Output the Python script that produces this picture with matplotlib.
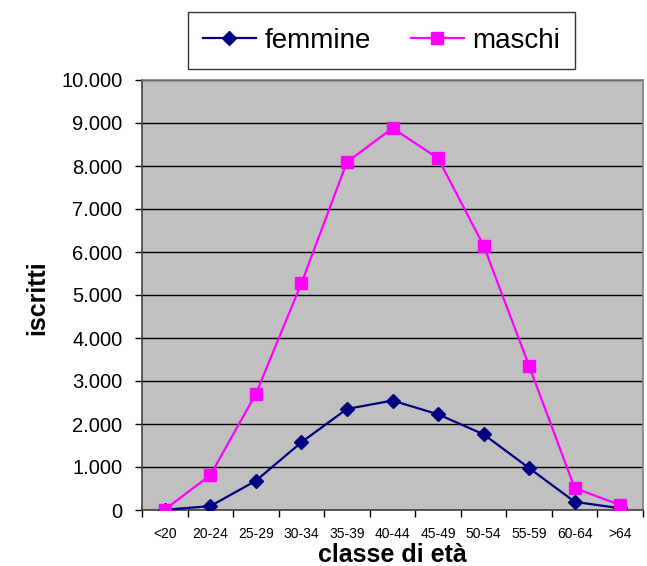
import matplotlib
matplotlib.use("Agg")
from matplotlib import pyplot as plt
from matplotlib.ticker import FuncFormatter, MultipleLocator

plt.rcParams['font.family'] = ['Liberation Sans', 'DejaVu Sans']

# age classes and enrolled counts
classi = ["<20", "20-24", "25-29", "30-34", "35-39", "40-44",
          "45-49", "50-54", "55-59", "60-64", ">64"]
femmine = [5, 90, 680, 1575, 2350, 2545, 2225, 1760, 975, 190, 40]
maschi = [10, 810, 2700, 5270, 8090, 8880, 8180, 6150, 3350, 510, 115]

fig = plt.figure(figsize=(6.47, 5.66), dpi=100)
ax = fig.add_axes([142 / 647, 56 / 566, 501 / 647, 430 / 566])
ax.set_facecolor("#C0C0C0")

x = list(range(len(classi)))
ax.plot(x, femmine, color="#000080", lw=1.6, marker="D", ms=7,
        label="femmine", zorder=3)
ax.plot(x, maschi, color="#FF00FF", lw=1.6, marker="s", ms=8,
        label="maschi", zorder=3)

# axes limits and ticks
ax.set_xlim(-0.5, len(classi) - 0.5)
ax.set_ylim(0, 10000)
ax.yaxis.set_major_locator(MultipleLocator(1000))
ax.yaxis.set_major_formatter(FuncFormatter(lambda v, p: f"{int(v):,}".replace(",", ".")))
ax.grid(axis="y", color="black", lw=1)
ax.set_axisbelow(True)

ax.set_xticks(x)
ax.set_xticklabels(classi)
ax.set_xticks([i - 0.5 for i in range(len(classi) + 1)], minor=True)
ax.tick_params(axis="x", which="major", length=0, pad=12, labelsize=10)
ax.tick_params(axis="x", which="minor", length=5, width=1, color="black")
ax.tick_params(axis="y", length=5, width=1, pad=9, labelsize=14.5)

for side in ["top", "right"]:
    ax.spines[side].set_color("#808080")
    ax.spines[side].set_linewidth(1.2)
ax.spines["left"].set_color("#404040")
ax.spines["bottom"].set_color("#404040")
ax.spines["left"].set_linewidth(1.2)
ax.spines["bottom"].set_linewidth(1.2)

ax.set_xlabel("classe di età", fontsize=18, fontweight="bold")
ax.xaxis.set_label_coords(0.5, -0.077)
ax.set_ylabel("iscritti", fontsize=18, fontweight="bold")
ax.yaxis.set_label_coords(-0.185, 0.494)

leg = fig.legend(loc="center", bbox_to_anchor=(0.5896, 0.9284), ncol=2,
                 fontsize=20, frameon=True, fancybox=False, edgecolor="black",
                 handlelength=1.9, handletextpad=0.3, columnspacing=1.45,
                 borderpad=0.55)
leg.get_frame().set_linewidth(1)

fig.savefig("out.png", dpi=100)
